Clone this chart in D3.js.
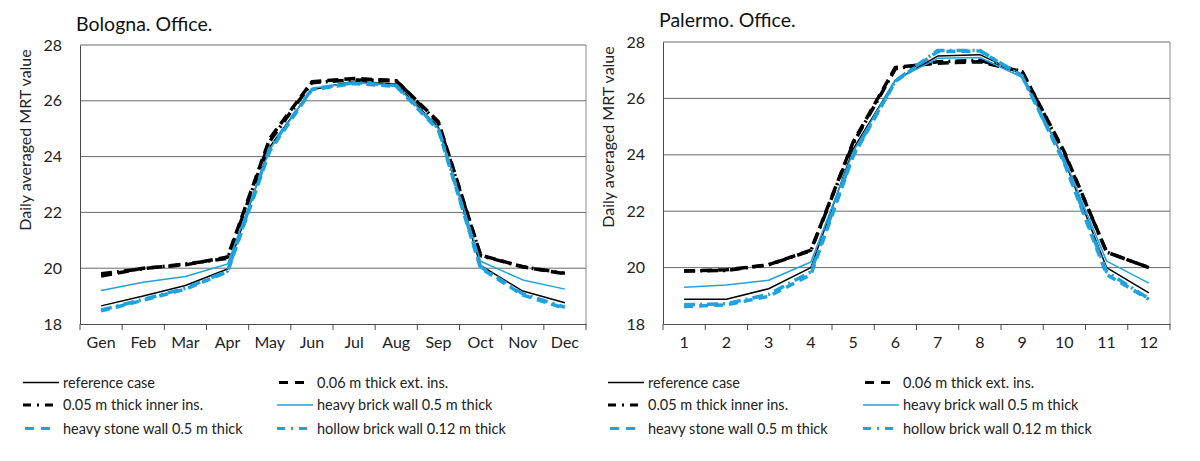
<!DOCTYPE html>
<html>
<head>
<meta charset="utf-8">
<script src="https://cdn.jsdelivr.net/npm/d3@7"></script>
<style>
  html, body { margin: 0; padding: 0; background: #fff; }
  svg { display: block; font-family: Lato, "Open Sans", sans-serif; }
</style>
</head>
<body>
<svg id="chart" width="1200" height="461"></svg>
<script>
// ---- data ----
const monthsBologna = ["Gen","Feb","Mar","Apr","May","Jun","Jul","Aug","Sep","Oct","Nov","Dec"];
const monthsPalermo = ["1","2","3","4","5","6","7","8","9","10","11","12"];
const yTicks = [18, 20, 22, 24, 26, 28];
const seriesNames = ["reference case","0.06 m thick ext. ins.","0.05 m thick inner ins.",
                     "heavy brick wall 0.5 m thick","heavy stone wall 0.5 m thick","hollow brick wall 0.12 m thick"];

const bolognaReference = [18.65, 19.0, 19.38, 19.97, 24.35, 26.4, 26.7, 26.6, 25.05, 20.1, 19.18, 18.76];
const bolognaExtIns    = [19.72, 20.0, 20.12, 20.4, 24.65, 26.68, 26.8, 26.72, 25.25, 20.47, 20.05, 19.8];
const bolognaInnerIns  = [19.8, 19.98, 20.15, 20.35, 24.55, 26.65, 26.75, 26.72, 25.2, 20.45, 20.05, 19.82];
const bolognaHeavyBrick= [19.2, 19.5, 19.7, 20.15, 24.25, 26.45, 26.65, 26.55, 25.0, 20.25, 19.58, 19.25];
const bolognaStone     = [18.47, 18.85, 19.25, 19.87, 24.2, 26.4, 26.62, 26.52, 24.95, 20.0, 19.04, 18.56];
const bolognaHollow    = [18.5, 18.88, 19.28, 19.9, 24.3, 26.42, 26.65, 26.55, 25.0, 20.05, 19.08, 18.6];

const palermoReference = [18.88, 18.88, 19.25, 20.0, 24.2, 26.65, 27.5, 27.55, 26.85, 23.8, 20.0, 19.1];
const palermoExtIns    = [19.88, 19.92, 20.1, 20.62, 24.45, 27.1, 27.25, 27.3, 26.95, 24.1, 20.55, 20.0];
const palermoInnerIns  = [19.88, 19.9, 20.1, 20.6, 24.4, 27.05, 27.3, 27.35, 26.95, 24.05, 20.55, 20.0];
const palermoHeavyBrick= [19.3, 19.38, 19.55, 20.2, 24.1, 26.65, 27.42, 27.45, 26.75, 23.85, 20.23, 19.45];
const palermoStone     = [18.62, 18.68, 18.98, 19.75, 23.95, 26.6, 27.66, 27.68, 26.8, 23.7, 19.75, 18.88];
const palermoHollow    = [18.68, 18.72, 19.05, 19.85, 24.0, 26.62, 27.7, 27.7, 26.78, 23.75, 19.85, 18.9];

// ---- styles ----
const BLUE = "#1fa2de";
const styles = [
  {color: "#000", width: 1.5, dash: null, legDash: null, legLen: 36},
  {color: "#000", width: 3.5, dash: "11,6", legDash: "9,7", legLen: 27},
  {color: "#000", width: 3.5, dash: "11,5,2,5", legDash: "8,6,2,6", legLen: 36},
  {color: BLUE, width: 1.5, dash: null, legDash: null, legLen: 36},
  {color: BLUE, width: 3.5, dash: "9,6", legDash: "9,7", legLen: 27},
  {color: BLUE, width: 3.5, dash: "11,5,2,5", legDash: "8,6,2,6", legLen: 36}
];

const svg = d3.select("#chart");

function drawChart(cfg) {
  const g = svg.append("g");
  const x = d3.scaleBand().domain(cfg.cats).range([cfg.left, cfg.right]).padding(0);
  const y = d3.scaleLinear().domain([18, 28]).range([cfg.bottom, cfg.top]);

  // gridlines
  g.append("g").selectAll("line").data(yTicks.filter(d => d > 18)).join("line")
    .attr("x1", cfg.left).attr("x2", cfg.right)
    .attr("y1", d => y(d)).attr("y2", d => y(d))
    .attr("stroke", "#6a6a6a").attr("stroke-width", 1);
  // right border
  g.append("line").attr("x1", cfg.right).attr("x2", cfg.right)
    .attr("y1", cfg.top).attr("y2", cfg.bottom).attr("stroke", "#8a8a8a").attr("stroke-width", 1);

  // y axis
  const yAxis = g.append("g").attr("transform", `translate(${cfg.left},0)`)
    .call(d3.axisLeft(y).tickValues(yTicks).tickSize(0).tickPadding(18));
  yAxis.select(".domain").attr("stroke", "#4a4a4a");
  yAxis.selectAll("text").attr("font-size", 16).attr("fill", "#222").attr("font-family", "Lato, sans-serif");

  // x axis
  const xAxis = g.append("g").attr("transform", `translate(0,${cfg.bottom})`)
    .call(d3.axisBottom(x).tickSize(0).tickPadding(13));
  xAxis.select(".domain").attr("stroke", "#4a4a4a");
  xAxis.selectAll("text").attr("font-size", 16).attr("fill", "#222").attr("font-family", "Lato, sans-serif");
  // boundary tick marks
  const bounds = cfg.cats.map(c => x(c)).concat([cfg.right]);
  xAxis.append("g").selectAll("line").data(bounds).join("line")
    .attr("x1", d => d).attr("x2", d => d).attr("y1", 0).attr("y2", 6)
    .attr("stroke", "#4a4a4a");

  // title
  g.append("text").attr("x", cfg.titleX).attr("y", cfg.titleY)
    .attr("font-size", 19.5).attr("fill", "#111").text(cfg.title);

  // y label
  g.append("text")
    .attr("transform", `translate(${cfg.ylabX},${cfg.ylabY}) rotate(-90)`)
    .attr("text-anchor", "middle").attr("font-size", 16).attr("fill", "#222")
    .text("Daily averaged MRT value");

  // lines
  const line = d3.line().x((d, i) => x(cfg.cats[i]) + x.bandwidth() / 2).y(d => y(d));
  cfg.series.forEach((s, k) => {
    const st = styles[k];
    g.append("path").datum(s).attr("d", line)
      .attr("fill", "none").attr("stroke", st.color).attr("stroke-width", st.width)
      .attr("stroke-dasharray", st.dash).attr("stroke-linejoin", "round");
  });

  // legend
  const rowsY = [382.5, 405, 428.5];
  seriesNames.forEach((name, k) => {
    const col = k % 2, row = Math.floor(k / 2);
    const lx = cfg.legCols[col];
    const st = styles[k];
    const ly = rowsY[row];
    const off = st.legLen < 36 ? 2 : 0;
    g.append("line").attr("x1", lx + off).attr("x2", lx + off + st.legLen).attr("y1", ly).attr("y2", ly)
      .attr("stroke", st.color).attr("stroke-width", st.legDash ? 3 : 1.5)
      .attr("stroke-dasharray", st.legDash);
    g.append("text").attr("x", lx + 40).attr("y", ly + 5)
      .attr("font-size", 14.5).attr("fill", "#222").text(name);
  });
}

drawChart({
  cats: monthsBologna, left: 80, right: 586, top: 45, bottom: 324,
  title: "Bologna. Office.", titleX: 76, titleY: 31, ylabX: 31, ylabY: 140,
  series: [bolognaReference, bolognaExtIns, bolognaInnerIns, bolognaHeavyBrick, bolognaStone, bolognaHollow],
  legCols: [23, 277]
});
drawChart({
  cats: monthsPalermo, left: 663, right: 1170, top: 42, bottom: 324,
  title: "Palermo. Office.", titleX: 659, titleY: 27, ylabX: 614, ylabY: 137,
  series: [palermoReference, palermoExtIns, palermoInnerIns, palermoHeavyBrick, palermoStone, palermoHollow],
  legCols: [608, 863]
});
</script>
</body>
</html>
